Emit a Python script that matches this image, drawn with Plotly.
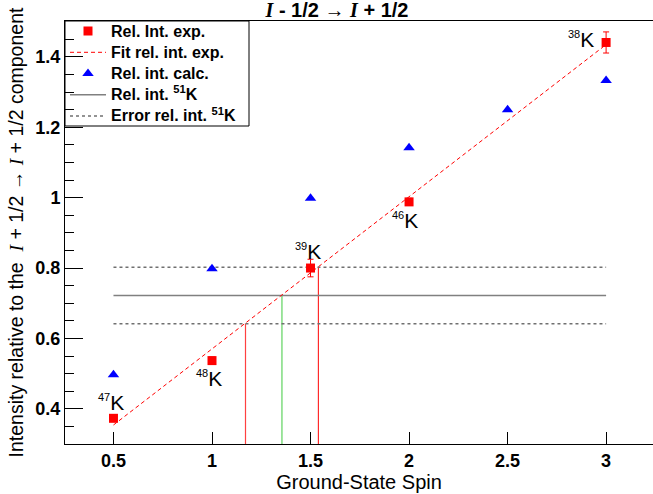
import plotly.graph_objects as go

# ---------------- data ----------------
spin_exp = [0.5, 1.0, 1.5, 2.0, 3.0]
rel_int_exp = [0.373, 0.537, 0.800, 0.988, 1.441]
rel_int_exp_err = [0.008, 0.010, 0.025, 0.010, 0.030]
isotopes = ["47", "48", "39", "46", "38"]

spin_calc = [0.5, 1.0, 1.5, 2.0, 2.5, 3.0]
rel_int_calc = [0.497, 0.798, 0.998, 1.142, 1.250, 1.333]

fit_spin = [0.5, 3.0]
fit_int = [0.354, 1.435]

k51_spin = [0.5, 3.0]
k51_int = 0.722
k51_err = 0.080

cross_spin = [1.17, 1.355, 1.54]
cross_int = [0.642, 0.722, 0.802]
cross_colors = ["#ff4040", "#5fd35f", "#ff2a2a"]

x_ticks = [0.5, 1, 1.5, 2, 2.5, 3]
y_ticks = [0.4, 0.6, 0.8, 1.0, 1.2, 1.4]

# label pixel offsets (style)
label_dx = [13, 12, 12, 11, -10]
label_dy = [16, -18, 17, -19, 3]

SANS = "Liberation Sans, Arial, sans-serif"
SERIF = "Liberation Serif"
I_ = f"<span style='font-family:{SERIF}'><i>I</i></span>"

W, H = 653, 494
ML, MR, MT, MB = 65, 0, 21, 50
PW, PH = W - ML - MR, H - MT - MB

def leg(t):
    return f"<span style='font-size:16px'>{t}</span>"

fig = go.Figure()

# vertical construction lines
for xv, yv, c in zip(cross_spin, cross_int, cross_colors):
    fig.add_trace(go.Scatter(x=[xv, xv], y=[0.3, yv], mode="lines",
                             line=dict(color=c, width=1.2), showlegend=False,
                             hoverinfo="skip"))

# 51K band
fig.add_trace(go.Scatter(
    x=[k51_spin[0], k51_spin[1], None, k51_spin[0], k51_spin[1]],
    y=[k51_int + k51_err, k51_int + k51_err, None, k51_int - k51_err, k51_int - k51_err],
    mode="lines", line=dict(color="#707070", width=1.5, dash="3px,3px"),
    name=leg("Error rel. int. <sup>51</sup>K"), legendrank=5))
fig.add_trace(go.Scatter(
    x=k51_spin, y=[k51_int, k51_int], mode="lines",
    line=dict(color="#808080", width=1.5),
    name=leg("Rel. int. <sup>51</sup>K"), legendrank=4))

# fit
fig.add_trace(go.Scatter(x=fit_spin, y=fit_int, mode="lines",
                         line=dict(color="red", width=1, dash="4px,3px"),
                         name=leg("Fit rel. int. exp."), legendrank=2))

# calc
fig.add_trace(go.Scatter(x=spin_calc, y=rel_int_calc, mode="markers",
                         marker=dict(symbol="triangle-up", color="blue", size=10),
                         name=leg("Rel. int. calc."), legendrank=3))

# exp
fig.add_trace(go.Scatter(x=spin_exp, y=rel_int_exp, mode="markers",
                         marker=dict(symbol="square", color="red", size=9),
                         error_y=dict(type="data", array=rel_int_exp_err,
                                      color="red", thickness=1, width=3),
                         name=leg("Rel. Int. exp."), legendrank=1))

# isotope labels
for xv, yv, iso, dx, dy in zip(spin_exp, rel_int_exp, isotopes, label_dx, label_dy):
    fig.add_annotation(x=xv, y=yv, xref="x", yref="y",
                       text=f"<sup><span style='font-size:11px'>{iso}</span></sup>K",
                       showarrow=False, xanchor="right", yanchor="middle",
                       xshift=dx, yshift=dy,
                       font=dict(family=SANS, size=21, color="black"))

# legend frame (drawn as a shape so it hugs the entries like the original)
fig.add_shape(type="rect", xref="paper", yref="paper",
              x0=0, x1=(249 - ML) / PW, y0=1 - (126 - MT) / PH, y1=1,
              line=dict(color="black", width=1), fillcolor="white", layer="below")

fig.update_layout(
    width=W, height=H,
    margin=dict(l=ML, r=MR, t=MT, b=MB),
    paper_bgcolor="white", plot_bgcolor="rgba(0,0,0,0)",
    font=dict(family=SANS, color="black"),
    title=dict(text=f"<b>{I_} - 1/2 → {I_} + 1/2</b>",
               xref="container", x=337 / W, xanchor="center",
               yref="container", y=1 - 10 / H, yanchor="middle",
               font=dict(family=SANS, size=20, color="black")),
    legend=dict(x=0, y=1 + 5.5 / PH, xanchor="left", yanchor="top",
                borderwidth=0, bgcolor="rgba(0,0,0,0)", itemwidth=36,
                font=dict(family=SANS, size=14, color="black", weight="bold"),
                tracegroupgap=0),
    showlegend=True,
)

fig.update_xaxes(range=[0.254, 3.238], tickvals=x_ticks, automargin=False,
                 ticks="inside", ticklen=12, tickcolor="black",
                 showline=True, linecolor="black", linewidth=1, mirror=True,
                 showgrid=False, zeroline=False,
                 tickfont=dict(family=SANS, size=18, color="black", weight="bold"),
                 title=dict(text="Ground-State Spin",
                            font=dict(family=SANS, size=20, color="black"),
                            standoff=3))
fig.update_yaxes(range=[0.3, 1.502], tickvals=y_ticks, automargin=False,
                 ticks="inside", ticklen=18, tickcolor="black",
                 minor=dict(dtick=0.05, tick0=0.3, ticks="inside", ticklen=9,
                            tickcolor="black", showgrid=False),
                 showline=True, linecolor="black", linewidth=1,
                 showgrid=False, zeroline=False,
                 tickfont=dict(family=SANS, size=18, color="black", weight="bold"),
                 title=dict(text=f"Intensity relative to the \u00a0{I_} + 1/2 → {I_} + 1/2 component",
                            font=dict(family=SANS, size=19.5, color="black"),
                            standoff=6))

fig.write_html("out.html", config={"displayModeBar": False},
               post_script="document.body.style.margin='0';")
